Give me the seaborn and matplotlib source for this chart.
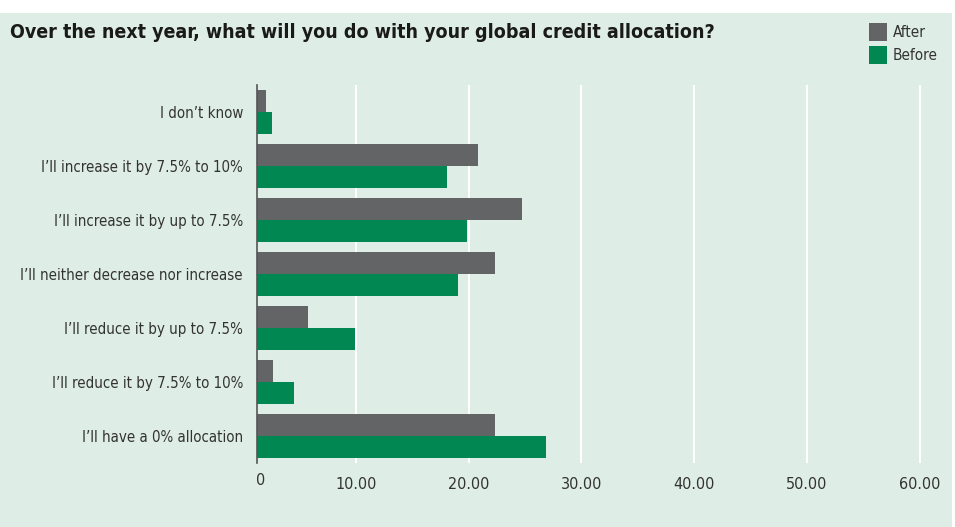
import matplotlib
matplotlib.use("Agg")
import matplotlib.pyplot as plt
from matplotlib.patches import Rectangle, Patch
import pandas as pd
import seaborn as sns

categories = [
    "I don\u2019t know",
    "I\u2019ll increase it by 7.5% to 10%",
    "I\u2019ll increase it by up to 7.5%",
    "I\u2019ll neither decrease nor increase",
    "I\u2019ll reduce it by up to 7.5%",
    "I\u2019ll reduce it by 7.5% to 10%",
    "I\u2019ll have a 0% allocation",
]
after = [2.0, 20.8, 24.7, 22.3, 5.8, 2.7, 22.3]
before = [2.6, 18.1, 19.9, 19.1, 9.9, 4.5, 26.9]
series = ["After", "Before"]
tick_values = [10, 20, 30, 40, 50, 60]
tick_labels = ["10.00", "20.00", "30.00", "40.00", "50.00", "60.00"]
title = "Over the next year, what will you do with your global credit allocation?"

BG = "#deede5"
GREY = "#636466"
GREEN = "#008752"
TEXT = "#333333"

df = pd.DataFrame({
    "answer": categories * 2,
    "value": after + before,
    "when": [series[0]] * len(after) + [series[1]] * len(before),
})

sns.set_style("white")
plt.rcParams["font.family"] = ["DejaVu Sans"]
plt.rcParams["font.stretch"] = "condensed"

fig = plt.figure(figsize=(9.55, 5.27), dpi=100)
fig.patch.set_facecolor("white")
fig.patches.append(Rectangle((0, 0), 952 / 955, 1 - 13 / 527,
                             transform=fig.transFigure, facecolor=BG,
                             edgecolor="none", zorder=-10))

ax = fig.add_axes([257 / 955, 1 - 463 / 527, (940 - 257) / 955, (463 - 85) / 527])
ax.set_facecolor(BG)

sns.barplot(data=df, y="answer", x="value", hue="when", order=categories,
            hue_order=series, palette=[GREY, GREEN], orient="h",
            width=0.8, saturation=1, legend=False, ax=ax, zorder=3,
            linewidth=0, edgecolor="none")

x_min = 1.24
ax.set_xlim(x_min, 61.8)
ax.set_ylim(6.5, -0.5)
ax.set_xticks(tick_values)
ax.set_xticklabels(tick_labels)
ax.xaxis.grid(True, color="white", linewidth=1.5, zorder=0)
ax.yaxis.grid(False)
ax.set_axisbelow(True)
ax.set_xlabel("")
ax.set_ylabel("")

for side in ["top", "right", "bottom"]:
    ax.spines[side].set_visible(False)
ax.spines["left"].set_color("#555555")
ax.spines["left"].set_linewidth(1.2)
ax.spines["left"].set_zorder(5)

ax.tick_params(axis="x", length=0, pad=10, labelsize=11.5, labelcolor=TEXT)
ax.tick_params(axis="y", length=0, pad=10, labelsize=10.8, labelcolor=TEXT)
ax.text(0.005, -0.026, "0", transform=ax.transAxes, ha="center", va="top",
        fontsize=11.5, color=TEXT)

fig.text(10 / 955, 1 - 32 / 527, title, ha="left", va="center",
         fontsize=14, fontweight="bold", color="#1a1a1a")

handles = [Patch(facecolor=GREY, edgecolor="none"),
           Patch(facecolor=GREEN, edgecolor="none")]
fig.legend(handles, series, loc="upper left",
           bbox_to_anchor=(863 / 955, 1 - 17 / 527), frameon=False,
           fontsize=11, handlelength=1.2, handleheight=1.45,
           handletextpad=0.35, labelspacing=0.3, borderaxespad=0,
           labelcolor=TEXT)

fig.savefig("out.png", dpi=100, facecolor=fig.get_facecolor())
